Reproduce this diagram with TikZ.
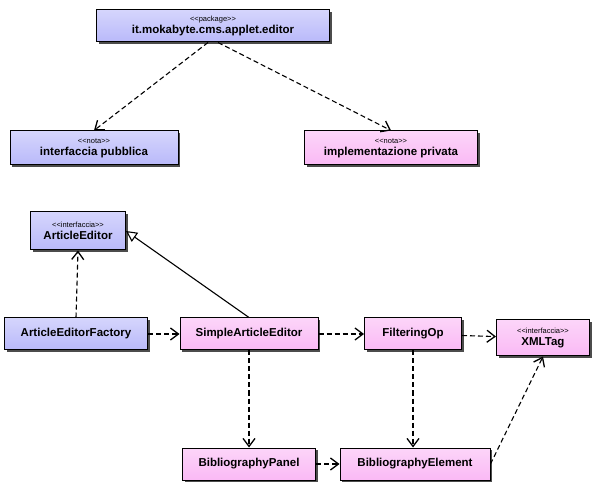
\documentclass[tikz,border=0pt]{standalone}
\usepackage{fontspec}
\setmainfont{Liberation Sans}
\usetikzlibrary{arrows.meta,shadows}
\definecolor{bl}{RGB}{185,185,250}
\definecolor{pk}{RGB}{250,185,245}
\tikzset{
 cls/.style={draw=black,line width=1pt,minimum height=30pt,inner xsep=3pt,font=\bfseries\fontsize{11.5}{12}\selectfont,align=center,
   drop shadow={shadow xshift=2pt,shadow yshift=-2pt,fill=black!70,opacity=1}},
 blue/.style={cls,top color=white!40!bl,bottom color=bl},
 pink/.style={cls,top color=white!40!pk,bottom color=pk},
 dep/.style={dash pattern=on 5pt off 3pt,line width=1.1pt,-{Straight Barb[length=8pt,width=12pt,line width=1.3pt]}},
 gen/.style={line width=1.1pt,-{Triangle[open,length=11pt,width=11pt]}},
}
\newcommand{\st}[1]{{\fontsize{7.5}{8}\selectfont\mdseries <\kern0pt<#1>\kern0pt>}\\}
\begin{document}
\begin{tikzpicture}[x=1pt,y=-1pt]
\useasboundingbox[fill=white] (0,0) rectangle (600,494);
\node[blue,minimum width=233,minimum height=32] (pkg) at (213,26) {\st{package}it.mokabyte.cms.applet.editor};
\node[blue,minimum width=168,minimum height=34] (pub) at (94,148) {\st{nota}interfaccia pubblica};
\node[pink,minimum width=173,minimum height=34] (priv) at (391,148) {\st{nota}implementazione privata};
\node[blue,minimum width=95,minimum height=38] (ae) at (78,231) {\st{interfaccia}ArticleEditor};
\node[blue,minimum width=143,minimum height=32] (aef) at (76,334) {ArticleEditorFactory};
\node[pink,minimum width=138,minimum height=32] (sae) at (249,334) {SimpleArticleEditor};
\node[pink,minimum width=97,minimum height=32] (fo) at (413,334) {FilteringOp};
\node[pink,minimum width=93,minimum height=36] (xml) at (543,338) {\st{interfaccia}XMLTag};
\node[pink,minimum width=133,minimum height=32] (bp) at (249,464) {BibliographyPanel};
\node[pink,minimum width=150,minimum height=32] (be) at (415,464) {BibliographyElement};
\draw[dep] (pkg.south) ++(-5,0) -- (pub.north);
\draw[dep] (pkg.south) ++(5,0) -- (priv.north);
\draw[dep] (aef.north) -- (ae.south);
\draw[gen] (sae.north) -- (ae.east);
\draw[dep] (aef) -- (sae);
\draw[dep] (sae) -- (fo);
\draw[dep] (fo) -- (xml);
\draw[dep] (sae) -- (bp);
\draw[dep] (fo) -- (fo|-be.north);
\draw[dep] (bp) -- (be);
\draw[dep] (be.east) -- (xml.south);
\end{tikzpicture}
\end{document}
